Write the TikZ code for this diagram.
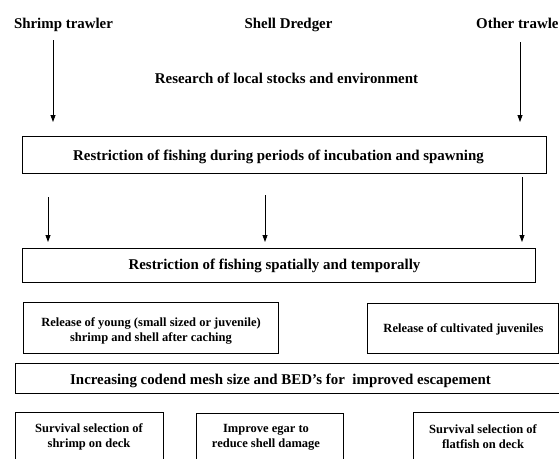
\documentclass[tikz,border=0pt]{standalone}
\usepackage{fontspec}
\setmainfont{Liberation Serif}
\usetikzlibrary{arrows.meta}
\begin{document}
\begin{tikzpicture}[x=1pt,y=-1pt,
  big/.style={font=\fontsize{14.9}{16}\selectfont\bfseries, inner sep=0pt, anchor=base},
  small/.style={font=\fontsize{12.5}{15}\selectfont\bfseries, inner sep=0pt, align=center},
  frame/.style={draw=black, line width=0.9pt},
  arr/.style={-{Triangle[width=5pt,length=7pt]}, line width=0.8pt}]
\useasboundingbox (0,0) rectangle (559,458);
\clip (0,0) rectangle (559,458);

% gear types along the top
\node[big] (shrimp) at (63.5,28) {Shrimp trawler};
\node[big] (shell) at (288.5,28) {Shell Dredger};
\node[big, anchor=base west] (other) at (476,28) {Other trawle};
\node[big] (research) at (286.5,83) {Research of local stocks and environment};

% boxes
\draw[frame] (22,136) rectangle (546,173);
\node[big] (t1) at (278.5,160) {Restriction of fishing during periods of incubation and spawning};

\draw[frame] (22,248) rectangle (535,282);
\node[big] (t2) at (274.5,269) {Restriction of fishing spatially and temporally};

\draw[frame] (23,302) rectangle (278,353);
\node[small] (t3) at (151,330.5) {Release of young (small sized or juvenile)\\shrimp and shell after caching};

\draw[frame] (367,303) rectangle (558,353);
\node[small, anchor=base] (t4) at (463.5,332) {Release of cultivated juveniles};

\draw[frame] (15,363) rectangle (570,393);
\node[big] (t5) at (280.5,384) {Increasing codend mesh size and BED’s for\ \ improved escapement};

\draw[frame] (15,412) rectangle (163,470);
\node[small] (t6) at (89,437) {Survival selection of\\shrimp on deck};

\draw[frame] (196,413) rectangle (343,470);
\node[small] (t7) at (266,437) {Improve egar to\\reduce shell damage};

\draw[frame] (413,412) rectangle (570,470);
\node[small] (t8) at (483,437) {Survival selection of\\flatfish on deck};

% arrow end points
\coordinate (a1s) at (53,40);
\coordinate (a1e) at (53,122);
\coordinate (a2s) at (520,42);
\coordinate (a2e) at (520,122);
\coordinate (a3s) at (48,197);
\coordinate (a3e) at (48,242);
\coordinate (a4s) at (265,195);
\coordinate (a4e) at (265,242);
\coordinate (a5s) at (522,177);
\coordinate (a5e) at (522,242);

\draw[arr] (a1s) -- (a1e);
\draw[arr] (a2s) -- (a2e);
\draw[arr] (a3s) -- (a3e);
\draw[arr] (a4s) -- (a4e);
\draw[arr] (a5s) -- (a5e);
\end{tikzpicture}
\end{document}
